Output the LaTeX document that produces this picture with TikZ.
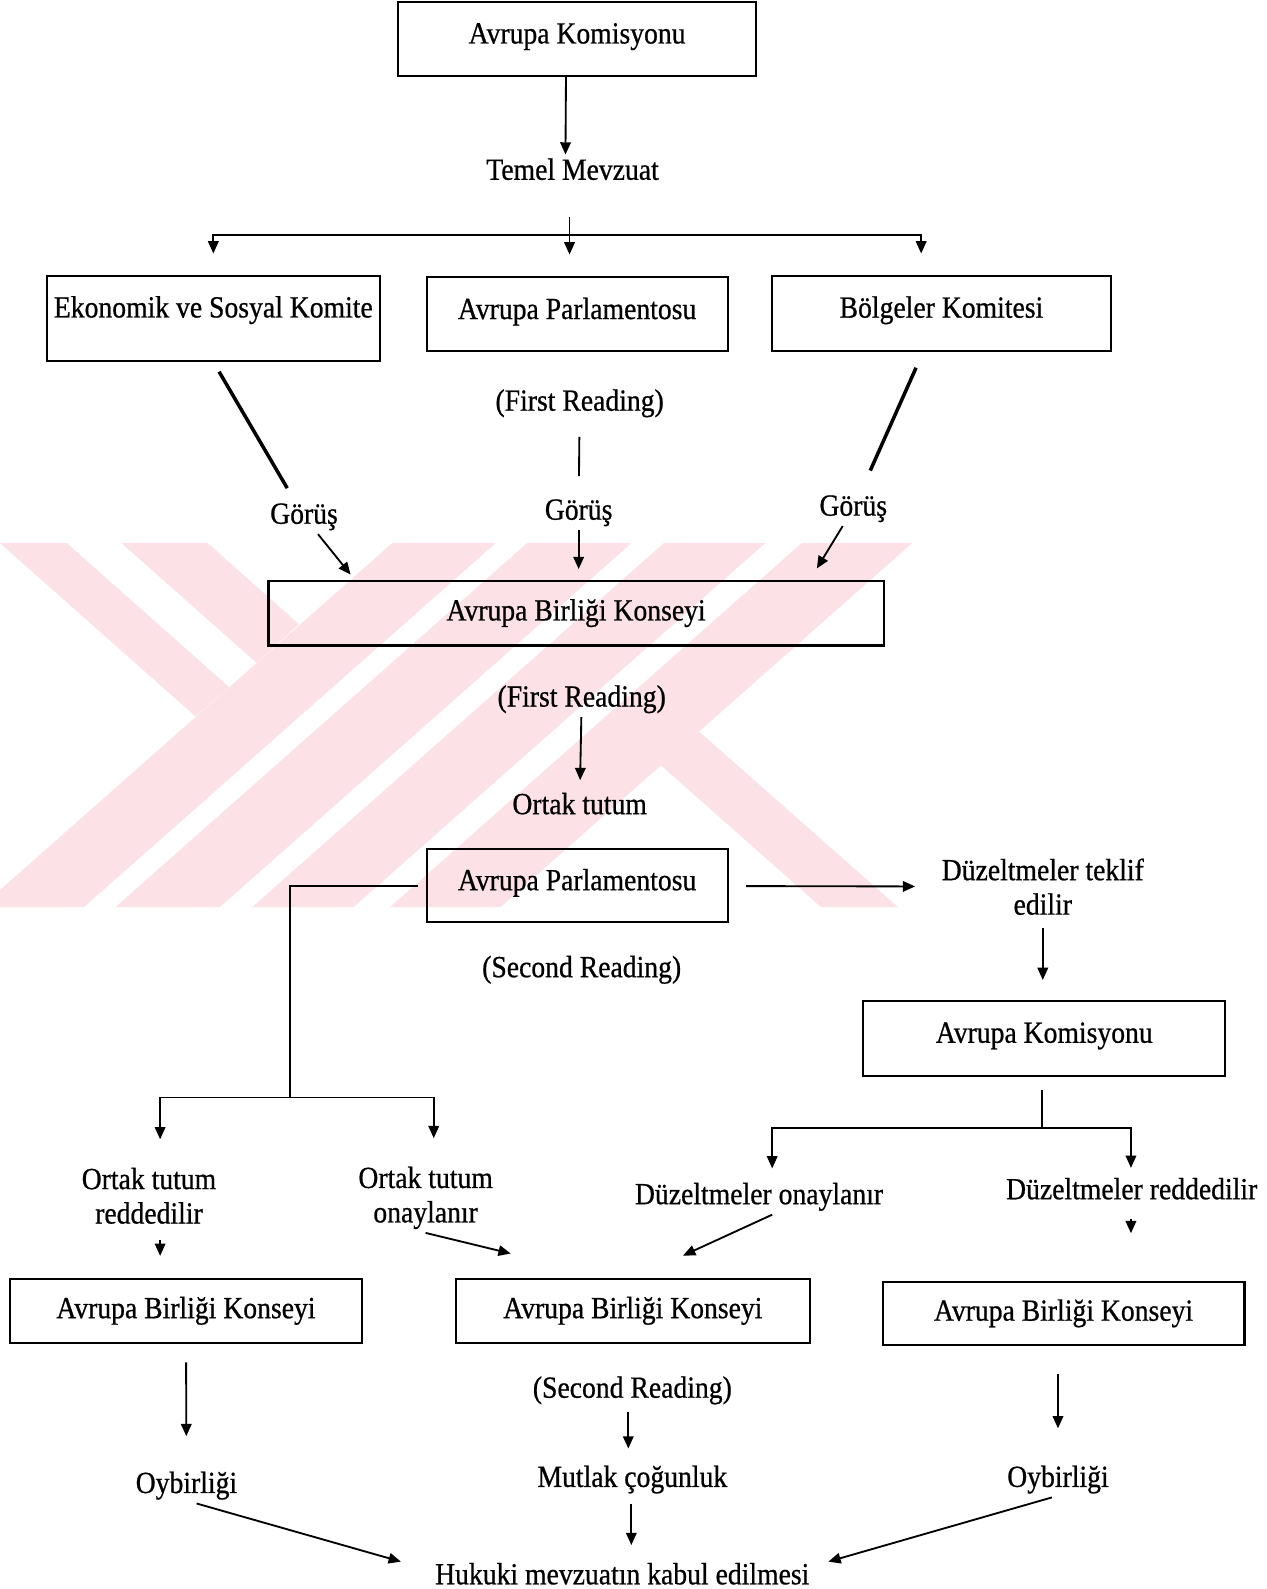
\documentclass[tikz,border=0pt]{standalone}
\usepackage{fontspec}
\setmainfont{Liberation Serif}[FakeStretch=0.9, FakeBold=0.7]
\usepackage{xcolor}
\usepackage{tikz}
\usetikzlibrary{
    positioning,
    arrows.meta,
    calc
}
\definecolor{markPink}{RGB}{252, 226, 230}
\newcommand{\pxu}{0.020272cm}

\tikzset{
    box/.style={draw, line width=1.2pt, inner sep=0pt},
    boxsize/.style 2 args={minimum width=#1*\pxu, minimum height=#2*\pxu},
    raised/.style={text depth=#1},
    lbl/.style={inner sep=2pt, align=center},
    arr/.style={-{Triangle[length=7pt, width=6pt]}, line width=1.05pt},
    link/.style={line width=1.05pt},
    heavy/.style={line width=2pt}
}

\begin{document}
\begin{tikzpicture}[x=\pxu, y=-\pxu, font=\fontsize{17.5pt}{19.6pt}\selectfont]
            \useasboundingbox (0,0) rectangle (1250,1568);

            % watermark in the background
            \fill[markPink] (0,536) -- (66,536) -- (226,678) -- (193,707) -- cycle;
            \fill[markPink] (120,536) -- (205,536) -- (295,616) -- (253,654) -- cycle;
            \fill[markPink] (387,536) -- (489,536) -- (83,895) -- (-19,895) -- cycle;
            \fill[markPink] (520,536) -- (623,536) -- (217,895) -- (114,895) -- cycle;
            \fill[markPink] (655,536) -- (755,536) -- (349,895) -- (249,895) -- cycle;
            \fill[markPink] (791,536) -- (900,536) -- (494,895) -- (385,895) -- cycle;
            \fill[markPink] (652,755) -- (690,722) -- (886,895) -- (810,895) -- cycle;

            % boxes
            \node[box, boxsize={353}{73}, raised=6.5pt] (ak1) at (569.5,38.5) {Avrupa Komisyonu};
            \node[box, boxsize={329}{84}, raised=13pt] (esk) at (210.5,314) {Ekonomik ve Sosyal Komite};
            \node[box, boxsize={297}{73}, raised=6pt] (ap1) at (569.5,309.5) {Avrupa Parlamentosu};
            \node[box, boxsize={334}{74}, raised=7pt] (bk) at (929,309) {Bölgeler Komitesi};
            \node[box, boxsize={607}{64}] (abk1) at (568.5,605) {Avrupa Birliği Konseyi};
            \node[box, boxsize={297}{72}, raised=7pt] (ap2) at (569.5,874) {Avrupa Parlamentosu};
            \node[box, boxsize={357}{74}, raised=7pt] (ak2) at (1030.5,1025) {Avrupa Komisyonu};
            \node[box, boxsize={347}{63}] (abkl) at (183.5,1293.5) {Avrupa Birliği Konseyi};
            \node[box, boxsize={349}{63}] (abkm) at (624.5,1293.5) {Avrupa Birliği Konseyi};
            \node[box, boxsize={357}{62}] (abkr) at (1049.5,1296) {Avrupa Birliği Konseyi};

            % labels
            \node[lbl] (temel) at (565,167) {Temel Mevzuat};
            \node[lbl] (fr1) at (572,398) {(First Reading)};
            \node[lbl] (gorus1) at (300,510) {Görüş};
            \node[lbl] (gorus2) at (571,506) {Görüş};
            \node[lbl] (gorus3) at (842,502) {Görüş};
            \node[lbl] (fr2) at (574,690) {(First Reading)};
            \node[lbl] (ortak) at (572,793) {Ortak tutum};
            \node[lbl] (duz) at (1029,875) {Düzeltmeler teklif\\edilir};
            \node[lbl] (sr1) at (574,957) {(Second Reading)};
            \node[lbl] (otr) at (147,1180) {Ortak tutum\\reddedilir};
            \node[lbl] (oto) at (420,1182) {Ortak tutum\\onaylanır};
            \node[lbl] (duzon) at (749,1181) {Düzeltmeler onaylanır};
            \node[lbl, anchor=west] (duzred) at (989,1173) {Düzeltmeler reddedilir};
            \node[lbl] (sr2) at (624,1372) {(Second Reading)};
            \node[lbl] (oyl) at (184,1466) {Oybirliği};
            \node[lbl] (mutlak) at (624,1460) {Mutlak çoğunluk};
            \node[lbl] (oyr) at (1044,1460) {Oybirliği};
            \node[lbl] (hukuki) at (614,1553) {Hukuki mevzuatın kabul edilmesi};

            % proposal
            \coordinate (split1) at (562,232);
            \draw[arr] ($(ak1.south)+(-11,0)$) -- ($(temel.north)+(-7,0)$);
            \draw[link, shorten <=19pt] (temel.south -| split1) -- (split1);
            \draw[arr, shorten >=12pt] (split1) -- (split1 |- ap1.north);
            \draw[arr, shorten >=12pt] (split1) -| (esk.north);
            \draw[arr, shorten >=12pt] (split1) -| ($(bk.north)+(-20,0)$);

            % opinions
            \draw[heavy, shorten <=6.5pt, shorten >=7.5pt] (esk.south) -- (gorus1);
            \draw[link, shorten <=9pt, shorten >=11pt] (fr1) -- (gorus2);
            \draw[heavy, shorten <=10pt, shorten >=13pt] ($(bk.south)+(-18,0)$) -- (gorus3);
            \draw[arr] (gorus1) -- ($(abk1.north west)+(82,-5)$);
            \draw[arr, shorten >=6pt] (gorus2) -- (gorus2 |- abk1.north);
            \draw[arr] (gorus3) -- ($(abk1.north east)+(-67,-11)$);

            % first reading
            \draw[arr, shorten >=5pt] (fr2) -- (ortak);

            % second reading
            \coordinate (split2) at (286,1083);
            \draw[link, shorten <=4.5pt] (ap2.west) -| (split2);
            \draw[arr, shorten >=14pt] (split2) -| ($(otr.north)+(11,0)$);
            \draw[arr, shorten >=14pt] (split2) -| ($(oto.north)+(8,0)$);
            \draw[arr, shorten <=10pt, shorten >=13pt] (ap2) -- (duz);
            \draw[arr, shorten <=5.5pt, shorten >=11.5pt] (duz) -- (duz |- ak2.north);

            % amendments
            \coordinate (split3) at (1028,1113);
            \draw[link, shorten <=7.5pt] (ak2.south -| split3) -- (split3);
            \draw[arr, shorten >=6pt] (split3) -| ($(duzon.north)+(13,0)$);
            \draw[arr, shorten >=3.5pt] (split3) -| ($(duzred.north west)+(127,0)$);

            % to the council
            \draw[arr, shorten <=7pt, shorten >=12.5pt] ($(otr.south)+(11,0)$) -- ($(abkl.north)+(-25.5,0)$);
            \draw[arr] (oto.south) -- ($(abkm.north west)+(55,-24)$);
            \draw[arr] ($(duzon.south)+(13,0)$) -- ($(abkm.north east)+(-126,-22)$);
            \draw[arr, shorten <=9pt] ($(duzred.south west)+(127,0)$) -- ($(abkr.north)+(66.5,-47)$);

            % votes
            \draw[arr, shorten <=10.5pt, shorten >=18pt] (abkl) -- (oyl);
            \draw[arr, shorten <=2pt, shorten >=7.5pt] ($(sr2.south)+(-4,0)$) -- ($(mutlak.north)+(-4,0)$);
            \draw[arr, shorten <=16pt, shorten >=19pt] ($(abkr.south)+(-5.5,0)$) -- (oyr);
            \draw[arr, shorten <=3.5pt, shorten >=8pt] ($(mutlak.south)+(-1,0)$) -- ($(hukuki.north)+(9,0)$);
            \draw[arr] ($(oyl.south)+(10,0)$) -- ($(hukuki.west)+(-30,-12)$);
            \draw[arr] ($(oyr.south)+(-6,0)$) -- ($(hukuki.east)+(15,-12)$);
\end{tikzpicture}
\end{document}
